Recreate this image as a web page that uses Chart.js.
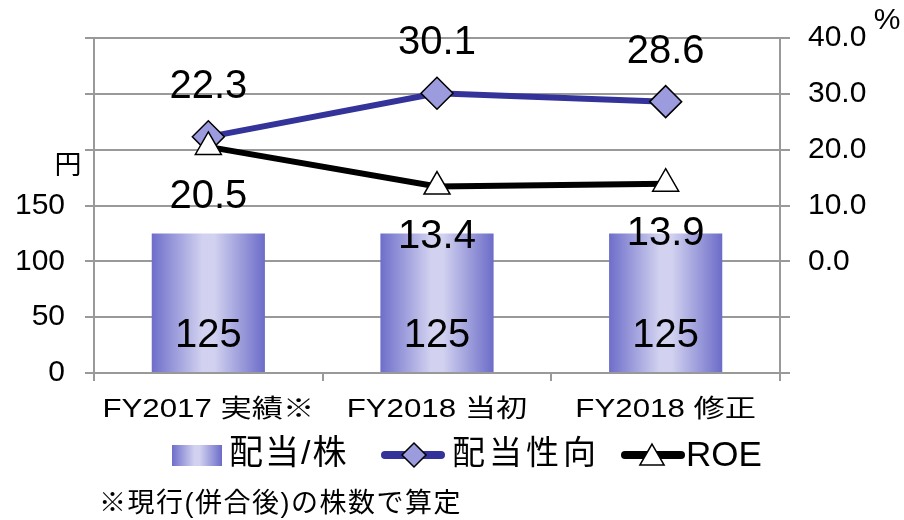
<!DOCTYPE html>
<html>
<head>
<meta charset="utf-8">
<script src="https://cdn.jsdelivr.net/npm/chart.js@4.4.1/dist/chart.umd.min.js"></script>
<style>
  html, body { margin: 0; padding: 0; background: #fff; }
  #wrap { width: 904px; height: 520px; }
</style>
</head>
<body>
<div id="wrap"><canvas id="chart"></canvas></div>
<script>
var categories = ["FY2017 実績※", "FY2018 当初", "FY2018 修正"];
var dividendPerShare = [125, 125, 125];
var payoutRatio = [22.3, 30.1, 28.6];
var roe = [20.5, 13.4, 13.9];
var seriesNames = ["配当/株", "配当性向", "ROE"];
var leftTickLabels = [0, 50, 100, 150];
var rightTickLabels = ["0.0", "10.0", "20.0", "30.0", "40.0"];
var footnote = "※現行(併合後)の株数で算定";

var FONT = "'Liberation Sans', 'Noto Sans CJK JP', sans-serif";
var GRID = "#999999";
var NAVY = "#333399";
var DIAMOND_FILL = "#9b9bde";

function barGradient(ctx, x0, x1) {
    var g = ctx.createLinearGradient(x0, 0, x1, 0);
    g.addColorStop(0, "#6e6ecb");
    g.addColorStop(0.45, "#d2d2f0");
    g.addColorStop(0.55, "#d2d2f0");
    g.addColorStop(1, "#6c6cc9");
    return g;
}

function barFill(c) {
    var chart = c.chart;
    var x = chart.scales.x;
    if (!x || !chart.chartArea) { return "#9a9ae0"; }
    var cx = x.getPixelForValue(c.dataIndex);
    var w = (chart.chartArea.right - chart.chartArea.left) / categories.length * 0.495;
    return barGradient(chart.ctx, cx - w / 2, cx + w / 2);
}

function drawDiamond(ctx, x, y, r) {
    ctx.beginPath();
    ctx.moveTo(x, y - r);
    ctx.lineTo(x + r, y);
    ctx.lineTo(x, y + r);
    ctx.lineTo(x - r, y);
    ctx.closePath();
    ctx.fillStyle = DIAMOND_FILL;
    ctx.fill();
    ctx.lineWidth = 1.5;
    ctx.strokeStyle = "#000";
    ctx.stroke();
}

function drawTriangle(ctx, x, y, r) {
    ctx.beginPath();
    ctx.moveTo(x, y - r);
    ctx.lineTo(x + r * 0.866, y + r * 0.5);
    ctx.lineTo(x - r * 0.866, y + r * 0.5);
    ctx.closePath();
    ctx.fillStyle = "#fff";
    ctx.fill();
    ctx.lineWidth = 1.5;
    ctx.strokeStyle = "#000";
    ctx.stroke();
}

// value labels over bars and points
var valueLabels = {
    id: "valueLabels",
    afterDatasetsDraw: function (chart) {
        var ctx = chart.ctx;
        ctx.save();
        ctx.font = "40px " + FONT;
        ctx.fillStyle = "#000";
        ctx.textAlign = "center";
        ctx.textBaseline = "middle";
        chart.data.datasets.forEach(function (ds, i) {
            var meta = chart.getDatasetMeta(i);
            meta.data.forEach(function (el, j) {
                var v = ds.data[j];
                if (ds.type === "bar") {
                    ctx.fillText(String(v), el.x, el.base - 36);
                } else {
                    ctx.fillText(v.toFixed(1), el.x, el.y + ds.labelOffset);
                }
            });
        });
        ctx.restore();
    }
};

// category labels, legend, unit labels, footnote
var extras = {
    id: "extras",
    afterDraw: function (chart) {
        var ctx = chart.ctx;
        var xs = chart.scales.x;
        ctx.save();
        ctx.fillStyle = "#000";
        ctx.textBaseline = "middle";

        // category labels (drawn wide like the original)
        ctx.font = "25px " + FONT;
        ctx.textAlign = "center";
        categories.forEach(function (lab, i) {
            var px = xs.getPixelForValue(i);
            ctx.save();
            ctx.translate(px, 410);
            ctx.scale(1.25, 1);
            ctx.fillText(lab, 0, 0);
            ctx.restore();
        });

        // axis units
        ctx.font = "27px " + FONT;
        ctx.fillText("円", 68, 167);
        ctx.font = "30px " + FONT;
        ctx.fillText("%", 887, 21);

        // legend
        var ly = 455;
        ctx.fillStyle = barGradient(ctx, 172, 222);
        ctx.fillRect(172, 445, 50, 21);

        ctx.lineCap = "round";
        ctx.strokeStyle = NAVY;
        ctx.lineWidth = 8;
        ctx.beginPath(); ctx.moveTo(385, ly); ctx.lineTo(441, ly); ctx.stroke();
        drawDiamond(ctx, 414, ly, 12);

        ctx.strokeStyle = "#000";
        ctx.lineWidth = 8;
        ctx.beginPath(); ctx.moveTo(625, ly); ctx.lineTo(681, ly); ctx.stroke();
        drawTriangle(ctx, 652, ly + 3, 14);

        ctx.fillStyle = "#000";
        ctx.textAlign = "left";
        ctx.font = "34px " + FONT;
        ctx.letterSpacing = "2px";
        ctx.fillText(seriesNames[0], 229, ly);
        ctx.font = "33px " + FONT;
        ctx.letterSpacing = "4px";
        ctx.fillText(seriesNames[1], 452, ly);
        ctx.letterSpacing = "0px";
        ctx.font = "35px " + FONT;
        ctx.fillText(seriesNames[2], 686, ly + 1);

        // footnote
        ctx.font = "27px " + FONT;
        ctx.letterSpacing = "1.5px";
        ctx.fillText(footnote, 99, 505);
        ctx.letterSpacing = "0px";
        ctx.restore();
    }
};

var ctx = document.getElementById("chart").getContext("2d");
new Chart(ctx, {
    data: {
        labels: categories,
        datasets: [
            {
                type: "line",
                label: seriesNames[2],
                data: roe,
                yAxisID: "y1",
                order: 0,
                borderColor: "#000",
                borderWidth: 6,
                pointStyle: "triangle",
                pointRadius: 15,
                pointHoverRadius: 15,
                pointBackgroundColor: "#fff",
                pointBorderColor: "#000",
                pointBorderWidth: 1.5,
                tension: 0,
                labelOffset: 50
            },
            {
                type: "line",
                label: seriesNames[1],
                data: payoutRatio,
                yAxisID: "y1",
                order: 1,
                borderColor: NAVY,
                borderWidth: 6,
                pointStyle: "rectRot",
                pointRadius: 16,
                pointHoverRadius: 16,
                pointBackgroundColor: DIAMOND_FILL,
                pointBorderColor: "#000",
                pointBorderWidth: 1.5,
                tension: 0,
                labelOffset: -50
            },
            {
                type: "bar",
                label: seriesNames[0],
                data: dividendPerShare,
                yAxisID: "y",
                order: 2,
                backgroundColor: barFill,
                borderWidth: 0,
                categoryPercentage: 1,
                barPercentage: 0.495
            }
        ]
    },
    options: {
        responsive: true,
        maintainAspectRatio: false,
        animation: false,
        layout: { padding: { top: 35, left: 0, right: 0, bottom: 0 } },
        plugins: {
            legend: { display: false },
            tooltip: { enabled: false },
            title: { display: false }
        },
        scales: {
            x: {
                offset: true,
                afterFit: function (s) { s.height = 147; },
                grid: {
                    offset: true,
                    drawOnChartArea: false,
                    color: GRID,
                    lineWidth: 2,
                    tickLength: 8
                },
                border: { color: GRID, width: 2 },
                ticks: { display: false }
            },
            y: {
                position: "left",
                min: 0,
                max: 300,
                afterFit: function (s) { s.width = 94; },
                grid: { color: GRID, lineWidth: 2, tickLength: 9 },
                border: { color: GRID, width: 2 },
                ticks: {
                    stepSize: 50,
                    padding: 20,
                    color: "#000",
                    font: { family: FONT, size: 30 },
                    callback: function (v) {
                        return leftTickLabels.indexOf(v) >= 0 ? String(v) : "";
                    }
                }
            },
            y1: {
                position: "right",
                min: -20,
                max: 40,
                afterFit: function (s) { s.width = 124; },
                grid: { drawOnChartArea: false, color: GRID, lineWidth: 2, tickLength: 10 },
                border: { color: GRID, width: 2 },
                ticks: {
                    stepSize: 10,
                    padding: 18,
                    color: "#000",
                    font: { family: FONT, size: 30 },
                    callback: function (v) {
                        var s = v.toFixed(1);
                        return rightTickLabels.indexOf(s) >= 0 ? s : "";
                    }
                }
            }
        }
    },
    plugins: [valueLabels, extras]
});
</script>
</body>
</html>
